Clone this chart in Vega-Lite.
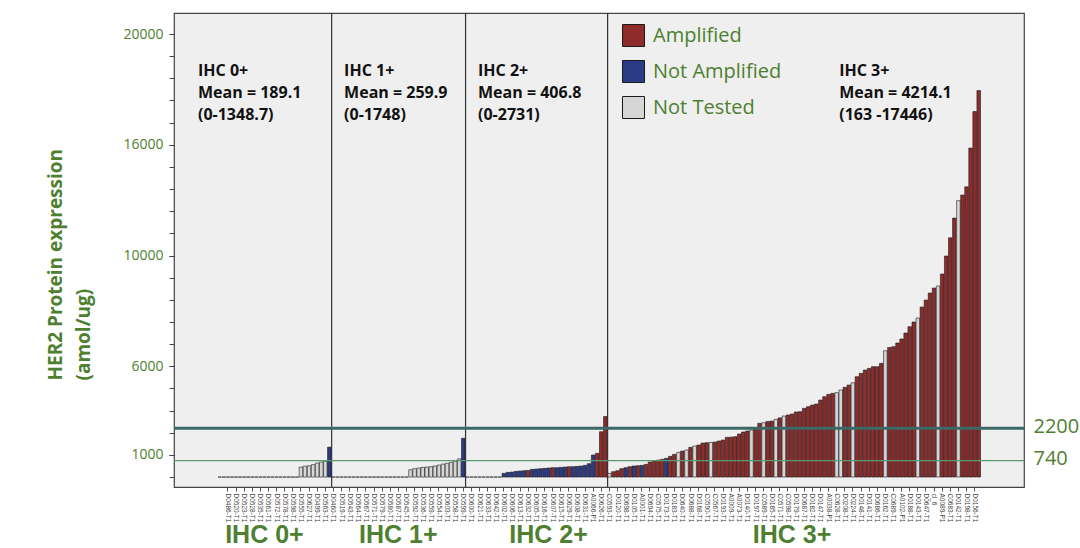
{
  "$schema": "https://vega.github.io/schema/vega-lite/v6.json",
  "width": 850,
  "height": 474,
  "autosize": {"type": "none"},
  "padding": {"left": 174, "top": 13, "right": 56, "bottom": 61},
  "background": "white",
  "config": {
    "font": "Open Sans",
    "view": {"fill": "#efefef", "stroke": "#444444", "strokeWidth": 1.2}
  },
  "datasets": {
    "bars": [
      {"id":"cl_1","group":"IHC 0+","status":"Not Tested","value":0},
      {"id":"D0491-T1","group":"IHC 0+","status":"Not Tested","value":0},
      {"id":"D0486-T1","group":"IHC 0+","status":"Not Tested","value":0},
      {"id":"D0512-T1","group":"IHC 0+","status":"Not Tested","value":0},
      {"id":"D0520-T1","group":"IHC 0+","status":"Not Tested","value":0},
      {"id":"D0521-T1","group":"IHC 0+","status":"Not Tested","value":0},
      {"id":"D0523-T1","group":"IHC 0+","status":"Not Tested","value":0},
      {"id":"D0525-T1","group":"IHC 0+","status":"Not Tested","value":0},
      {"id":"D0528-T1","group":"IHC 0+","status":"Not Tested","value":0},
      {"id":"D0531-T1","group":"IHC 0+","status":"Not Tested","value":0},
      {"id":"D0535-T1","group":"IHC 0+","status":"Not Tested","value":0},
      {"id":"D0548-T1","group":"IHC 0+","status":"Not Tested","value":0},
      {"id":"D0561-T1","group":"IHC 0+","status":"Not Tested","value":0},
      {"id":"D0566-T1","group":"IHC 0+","status":"Not Tested","value":0},
      {"id":"D0572-T1","group":"IHC 0+","status":"Not Tested","value":0},
      {"id":"D0574-T1","group":"IHC 0+","status":"Not Tested","value":0},
      {"id":"D0578-T1","group":"IHC 0+","status":"Not Tested","value":0},
      {"id":"D0590-T1","group":"IHC 0+","status":"Not Tested","value":0},
      {"id":"D0598-T1","group":"IHC 0+","status":"Not Tested","value":0},
      {"id":"D0501-T1","group":"IHC 0+","status":"Not Tested","value":0},
      {"id":"D0555-T1","group":"IHC 0+","status":"Not Tested","value":450},
      {"id":"D0584-T1","group":"IHC 0+","status":"Not Tested","value":490},
      {"id":"D0627-T1","group":"IHC 0+","status":"Not Tested","value":510},
      {"id":"D0489-T1","group":"IHC 0+","status":"Not Tested","value":560},
      {"id":"D0499-T1","group":"IHC 0+","status":"Not Tested","value":630},
      {"id":"D0594-T1","group":"IHC 0+","status":"Not Tested","value":680},
      {"id":"D0563-T1","group":"IHC 0+","status":"Not Tested","value":715},
      {"id":"D0581-T1","group":"IHC 0+","status":"Not Amplified","value":1348.7},
      {"id":"D0460-T1","group":"IHC 1+","status":"Not Tested","value":0},
      {"id":"D0466-T1","group":"IHC 1+","status":"Not Tested","value":0},
      {"id":"D0519-T1","group":"IHC 1+","status":"Not Tested","value":0},
      {"id":"D0522-T1","group":"IHC 1+","status":"Not Tested","value":0},
      {"id":"D0543-T1","group":"IHC 1+","status":"Not Tested","value":0},
      {"id":"D0544-T1","group":"IHC 1+","status":"Not Tested","value":0},
      {"id":"D0564-T1","group":"IHC 1+","status":"Not Tested","value":0},
      {"id":"D0565-T1","group":"IHC 1+","status":"Not Tested","value":0},
      {"id":"D0567-T1","group":"IHC 1+","status":"Not Tested","value":0},
      {"id":"D0568-T1","group":"IHC 1+","status":"Not Tested","value":0},
      {"id":"D0571-T1","group":"IHC 1+","status":"Not Tested","value":0},
      {"id":"D0573-T1","group":"IHC 1+","status":"Not Tested","value":0},
      {"id":"D0579-T1","group":"IHC 1+","status":"Not Tested","value":0},
      {"id":"D0582-T1","group":"IHC 1+","status":"Not Tested","value":0},
      {"id":"D0580-T1","group":"IHC 1+","status":"Not Tested","value":0},
      {"id":"D0583-T1","group":"IHC 1+","status":"Not Tested","value":0},
      {"id":"D0587-T1","group":"IHC 1+","status":"Not Tested","value":0},
      {"id":"D0588-T1","group":"IHC 1+","status":"Not Tested","value":0},
      {"id":"D0545-T1","group":"IHC 1+","status":"Not Tested","value":0},
      {"id":"D0546-T1","group":"IHC 1+","status":"Not Tested","value":330},
      {"id":"D0592-T1","group":"IHC 1+","status":"Not Tested","value":376},
      {"id":"D0593-T1","group":"IHC 1+","status":"Not Tested","value":406},
      {"id":"D0536-T1","group":"IHC 1+","status":"Not Tested","value":436},
      {"id":"D0537-T1","group":"IHC 1+","status":"Not Tested","value":450},
      {"id":"D0559-T1","group":"IHC 1+","status":"Not Tested","value":470},
      {"id":"D0560-T1","group":"IHC 1+","status":"Not Tested","value":500},
      {"id":"D0554-T1","group":"IHC 1+","status":"Not Tested","value":540},
      {"id":"D0557-T1","group":"IHC 1+","status":"Not Tested","value":585},
      {"id":"D0603-T1","group":"IHC 1+","status":"Not Tested","value":620},
      {"id":"D0604-T1","group":"IHC 1+","status":"Not Tested","value":660},
      {"id":"D0558-T1","group":"IHC 1+","status":"Not Tested","value":720},
      {"id":"D0562-T1","group":"IHC 1+","status":"Not Tested","value":820},
      {"id":"D0599-T1","group":"IHC 1+","status":"Not Amplified","value":1748},
      {"id":"D0597-T1","group":"IHC 2+","status":"Not Tested","value":0},
      {"id":"D0600-T1","group":"IHC 2+","status":"Not Tested","value":0},
      {"id":"D0611-T1","group":"IHC 2+","status":"Not Tested","value":0},
      {"id":"D0621-T1","group":"IHC 2+","status":"Not Tested","value":0},
      {"id":"D0624-T1","group":"IHC 2+","status":"Not Tested","value":0},
      {"id":"D0633-T1","group":"IHC 2+","status":"Not Tested","value":0},
      {"id":"D0635-T1","group":"IHC 2+","status":"Not Tested","value":0},
      {"id":"D0642-T1","group":"IHC 2+","status":"Not Tested","value":0},
      {"id":"D0641-T1","group":"IHC 2+","status":"Not Tested","value":0},
      {"id":"D0602-T1","group":"IHC 2+","status":"Not Amplified","value":166},
      {"id":"D0609-T1","group":"IHC 2+","status":"Not Amplified","value":210},
      {"id":"D0606-T1","group":"IHC 2+","status":"Not Amplified","value":225},
      {"id":"D0610-T1","group":"IHC 2+","status":"Not Amplified","value":255},
      {"id":"D0613-T1","group":"IHC 2+","status":"Not Amplified","value":270},
      {"id":"D0614-T1","group":"IHC 2+","status":"Not Amplified","value":285},
      {"id":"D0632-T1","group":"IHC 2+","status":"Amplified","value":300},
      {"id":"D0634-T1","group":"IHC 2+","status":"Not Amplified","value":346},
      {"id":"D0605-T1","group":"IHC 2+","status":"Not Amplified","value":361},
      {"id":"D0612-T1","group":"IHC 2+","status":"Not Amplified","value":376},
      {"id":"D0616-T1","group":"IHC 2+","status":"Not Amplified","value":391},
      {"id":"D0617-T1","group":"IHC 2+","status":"Not Amplified","value":406},
      {"id":"D0607-T1","group":"IHC 2+","status":"Amplified","value":421},
      {"id":"D0618-T1","group":"IHC 2+","status":"Not Amplified","value":421},
      {"id":"D0615-T1","group":"IHC 2+","status":"Not Amplified","value":436},
      {"id":"D0619-T1","group":"IHC 2+","status":"Not Amplified","value":450},
      {"id":"D0629-T1","group":"IHC 2+","status":"Amplified","value":466},
      {"id":"D0630-T1","group":"IHC 2+","status":"Not Amplified","value":466},
      {"id":"D0608-T1","group":"IHC 2+","status":"Not Amplified","value":481},
      {"id":"D0620-T1","group":"IHC 2+","status":"Not Amplified","value":496},
      {"id":"D0631-T1","group":"IHC 2+","status":"Not Amplified","value":526},
      {"id":"D0625-T1","group":"IHC 2+","status":"Not Amplified","value":602},
      {"id":"A0066-P1","group":"IHC 2+","status":"Not Amplified","value":993},
      {"id":"D0636-T1","group":"IHC 2+","status":"Amplified","value":1070},
      {"id":"D0626-T1","group":"IHC 2+","status":"Amplified","value":2045},
      {"id":"D0637-T1","group":"IHC 2+","status":"Amplified","value":2731},
      {"id":"C0593-T1","group":"IHC 3+","status":"Not Tested","value":163},
      {"id":"D0701-T1","group":"IHC 3+","status":"Amplified","value":240},
      {"id":"D0120-T1","group":"IHC 3+","status":"Amplified","value":285},
      {"id":"D0702-T1","group":"IHC 3+","status":"Amplified","value":376},
      {"id":"D0698-T1","group":"IHC 3+","status":"Not Amplified","value":421},
      {"id":"D0703-T1","group":"IHC 3+","status":"Amplified","value":466},
      {"id":"D0105-T1","group":"IHC 3+","status":"Not Amplified","value":497},
      {"id":"D0704-T1","group":"IHC 3+","status":"Amplified","value":512},
      {"id":"A0001-T1","group":"IHC 3+","status":"Not Amplified","value":527},
      {"id":"D0705-T1","group":"IHC 3+","status":"Amplified","value":572},
      {"id":"D0694-T1","group":"IHC 3+","status":"Amplified","value":677},
      {"id":"D0706-T1","group":"IHC 3+","status":"Amplified","value":722},
      {"id":"C0575-T1","group":"IHC 3+","status":"Amplified","value":767},
      {"id":"D0707-T1","group":"IHC 3+","status":"Amplified","value":797},
      {"id":"D0173-T1","group":"IHC 3+","status":"Not Amplified","value":843},
      {"id":"D0708-T1","group":"IHC 3+","status":"Amplified","value":933},
      {"id":"D0183-T1","group":"IHC 3+","status":"Amplified","value":1023},
      {"id":"D0709-T1","group":"IHC 3+","status":"Not Tested","value":1114},
      {"id":"D0640-T1","group":"IHC 3+","status":"Amplified","value":1174},
      {"id":"D0710-T1","group":"IHC 3+","status":"Not Tested","value":1219},
      {"id":"D0688-T1","group":"IHC 3+","status":"Amplified","value":1340},
      {"id":"D0711-T1","group":"IHC 3+","status":"Not Tested","value":1400},
      {"id":"D0168-T1","group":"IHC 3+","status":"Amplified","value":1445},
      {"id":"D0712-T1","group":"IHC 3+","status":"Amplified","value":1535},
      {"id":"C0590-T1","group":"IHC 3+","status":"Amplified","value":1550},
      {"id":"D0713-T1","group":"IHC 3+","status":"Not Tested","value":1565},
      {"id":"C0567-T1","group":"IHC 3+","status":"Amplified","value":1580},
      {"id":"D0714-T1","group":"IHC 3+","status":"Amplified","value":1625},
      {"id":"D0193-T1","group":"IHC 3+","status":"Amplified","value":1670},
      {"id":"D0715-T1","group":"IHC 3+","status":"Amplified","value":1791},
      {"id":"A0009-T1","group":"IHC 3+","status":"Amplified","value":1800},
      {"id":"D0716-T1","group":"IHC 3+","status":"Amplified","value":1821},
      {"id":"A0073-T1","group":"IHC 3+","status":"Amplified","value":1941},
      {"id":"D0717-T1","group":"IHC 3+","status":"Amplified","value":2032},
      {"id":"D0140-T1","group":"IHC 3+","status":"Amplified","value":2077},
      {"id":"D0718-T1","group":"IHC 3+","status":"Not Tested","value":2122},
      {"id":"D0197-T1","group":"IHC 3+","status":"Amplified","value":2183},
      {"id":"D0719-T1","group":"IHC 3+","status":"Amplified","value":2424},
      {"id":"C0589-T1","group":"IHC 3+","status":"Not Tested","value":2454},
      {"id":"D0720-T1","group":"IHC 3+","status":"Amplified","value":2505},
      {"id":"D0185-T1","group":"IHC 3+","status":"Amplified","value":2525},
      {"id":"D0721-T1","group":"IHC 3+","status":"Not Tested","value":2600},
      {"id":"C0571-T1","group":"IHC 3+","status":"Amplified","value":2670},
      {"id":"D0722-T1","group":"IHC 3+","status":"Not Tested","value":2754},
      {"id":"C0598-T1","group":"IHC 3+","status":"Amplified","value":2800},
      {"id":"D0723-T1","group":"IHC 3+","status":"Amplified","value":2845},
      {"id":"D0179-T1","group":"IHC 3+","status":"Amplified","value":2935},
      {"id":"D0724-T1","group":"IHC 3+","status":"Amplified","value":2950},
      {"id":"D0687-T1","group":"IHC 3+","status":"Amplified","value":3100},
      {"id":"D0725-T1","group":"IHC 3+","status":"Amplified","value":3176},
      {"id":"D0182-T1","group":"IHC 3+","status":"Amplified","value":3250},
      {"id":"D0726-T1","group":"IHC 3+","status":"Amplified","value":3296},
      {"id":"D0147-T1","group":"IHC 3+","status":"Amplified","value":3476},
      {"id":"D0727-T1","group":"IHC 3+","status":"Amplified","value":3627},
      {"id":"A0038-P1","group":"IHC 3+","status":"Amplified","value":3733},
      {"id":"D0728-T1","group":"IHC 3+","status":"Amplified","value":3778},
      {"id":"C0628-T1","group":"IHC 3+","status":"Not Tested","value":3808},
      {"id":"D0729-T1","group":"IHC 3+","status":"Not Tested","value":3928},
      {"id":"D0208-T1","group":"IHC 3+","status":"Amplified","value":4050},
      {"id":"D0730-T1","group":"IHC 3+","status":"Amplified","value":4153},
      {"id":"D0224-T1","group":"IHC 3+","status":"Not Tested","value":4258},
      {"id":"D0731-T1","group":"IHC 3+","status":"Amplified","value":4530},
      {"id":"D0148-T1","group":"IHC 3+","status":"Amplified","value":4680},
      {"id":"D0732-T1","group":"IHC 3+","status":"Amplified","value":4830},
      {"id":"D0141-T1","group":"IHC 3+","status":"Amplified","value":4906},
      {"id":"D0733-T1","group":"IHC 3+","status":"Amplified","value":4981},
      {"id":"D0686-T1","group":"IHC 3+","status":"Amplified","value":4981},
      {"id":"D0734-T1","group":"IHC 3+","status":"Amplified","value":5132},
      {"id":"D0162-T1","group":"IHC 3+","status":"Not Tested","value":5700},
      {"id":"D0735-T1","group":"IHC 3+","status":"Amplified","value":5850},
      {"id":"C0689-T1","group":"IHC 3+","status":"Amplified","value":5884},
      {"id":"D0736-T1","group":"IHC 3+","status":"Amplified","value":6050},
      {"id":"A0102-P1","group":"IHC 3+","status":"Amplified","value":6230},
      {"id":"D0737-T1","group":"IHC 3+","status":"Amplified","value":6500},
      {"id":"D0188-T1","group":"IHC 3+","status":"Amplified","value":6786},
      {"id":"D0738-T1","group":"IHC 3+","status":"Amplified","value":7000},
      {"id":"D0143-T1","group":"IHC 3+","status":"Not Tested","value":7178},
      {"id":"D0739-T1","group":"IHC 3+","status":"Amplified","value":7675},
      {"id":"D0647-T1","group":"IHC 3+","status":"Amplified","value":7990},
      {"id":"D0740-T1","group":"IHC 3+","status":"Amplified","value":8307},
      {"id":"cl_6","group":"IHC 3+","status":"Amplified","value":8533},
      {"id":"D0741-T1","group":"IHC 3+","status":"Not Tested","value":8623},
      {"id":"A0089-P1","group":"IHC 3+","status":"Amplified","value":9165},
      {"id":"D0742-T1","group":"IHC 3+","status":"Amplified","value":9977},
      {"id":"C0683-T1","group":"IHC 3+","status":"Amplified","value":10800},
      {"id":"D0743-T1","group":"IHC 3+","status":"Amplified","value":11690},
      {"id":"D0142-T1","group":"IHC 3+","status":"Not Tested","value":12475},
      {"id":"D0744-T1","group":"IHC 3+","status":"Amplified","value":12730},
      {"id":"D0198-T1","group":"IHC 3+","status":"Amplified","value":13100},
      {"id":"D0745-T1","group":"IHC 3+","status":"Amplified","value":14850},
      {"id":"D0156-T1","group":"IHC 3+","status":"Amplified","value":16500},
      {"id":"D0746-T1","group":"IHC 3+","status":"Amplified","value":17446}
    ],
    "dividers": [
      {"id":"D0460-T1"},
      {"id":"D0597-T1"},
      {"id":"C0593-T1"}
    ],
    "notes": [
      {"id":"cl_1","lines":["IHC 0+","Mean = 189.1","(0-1348.7)"]},
      {"id":"D0567-T1","lines":["IHC 1+","Mean = 259.9","(0-1748)"]},
      {"id":"D0641-T1","lines":["IHC 2+","Mean = 406.8","(0-2731)"]},
      {"id":"D0148-T1","lines":["IHC 3+","Mean = 4214.1","(163 -17446)"]}
    ],
    "groups": [
      {"id":"D0548-T1","label":"IHC 0+"},
      {"id":"D0587-T1","label":"IHC 1+"},
      {"id":"D0617-T1","label":"IHC 2+"},
      {"id":"D0723-T1","label":"IHC 3+"}
    ],
    "refs": [
      {"value":2200},
      {"value":740}
    ]
  },
  "layer": [
    {
      "layer": [
        {
          "data": {"name": "bars"},
          "mark": {"type": "bar", "stroke": "#1a1a1a", "strokeWidth": 0.6},
          "encoding": {
            "x": {
              "field": "id", "type": "nominal", "sort": null,
              "scale": {
                "range": [44, 806.5],
                "paddingInner": 0.12, "paddingOuter": 0,
                "domain": ["cl_1","D0491-T1","D0486-T1","D0512-T1","D0520-T1","D0521-T1","D0523-T1","D0525-T1","D0528-T1","D0531-T1","D0535-T1","D0548-T1","D0561-T1","D0566-T1","D0572-T1","D0574-T1","D0578-T1","D0590-T1","D0598-T1","D0501-T1","D0555-T1","D0584-T1","D0627-T1","D0489-T1","D0499-T1","D0594-T1","D0563-T1","D0581-T1","D0460-T1","D0466-T1","D0519-T1","D0522-T1","D0543-T1","D0544-T1","D0564-T1","D0565-T1","D0567-T1","D0568-T1","D0571-T1","D0573-T1","D0579-T1","D0582-T1","D0580-T1","D0583-T1","D0587-T1","D0588-T1","D0545-T1","D0546-T1","D0592-T1","D0593-T1","D0536-T1","D0537-T1","D0559-T1","D0560-T1","D0554-T1","D0557-T1","D0603-T1","D0604-T1","D0558-T1","D0562-T1","D0599-T1","D0597-T1","D0600-T1","D0611-T1","D0621-T1","D0624-T1","D0633-T1","D0635-T1","D0642-T1","D0641-T1","D0602-T1","D0609-T1","D0606-T1","D0610-T1","D0613-T1","D0614-T1","D0632-T1","D0634-T1","D0605-T1","D0612-T1","D0616-T1","D0617-T1","D0607-T1","D0618-T1","D0615-T1","D0619-T1","D0629-T1","D0630-T1","D0608-T1","D0620-T1","D0631-T1","D0625-T1","A0066-P1","D0636-T1","D0626-T1","D0637-T1","C0593-T1","D0701-T1","D0120-T1","D0702-T1","D0698-T1","D0703-T1","D0105-T1","D0704-T1","A0001-T1","D0705-T1","D0694-T1","D0706-T1","C0575-T1","D0707-T1","D0173-T1","D0708-T1","D0183-T1","D0709-T1","D0640-T1","D0710-T1","D0688-T1","D0711-T1","D0168-T1","D0712-T1","C0590-T1","D0713-T1","C0567-T1","D0714-T1","D0193-T1","D0715-T1","A0009-T1","D0716-T1","A0073-T1","D0717-T1","D0140-T1","D0718-T1","D0197-T1","D0719-T1","C0589-T1","D0720-T1","D0185-T1","D0721-T1","C0571-T1","D0722-T1","C0598-T1","D0723-T1","D0179-T1","D0724-T1","D0687-T1","D0725-T1","D0182-T1","D0726-T1","D0147-T1","D0727-T1","A0038-P1","D0728-T1","C0628-T1","D0729-T1","D0208-T1","D0730-T1","D0224-T1","D0731-T1","D0148-T1","D0732-T1","D0141-T1","D0733-T1","D0686-T1","D0734-T1","D0162-T1","D0735-T1","C0689-T1","D0736-T1","A0102-P1","D0737-T1","D0188-T1","D0738-T1","D0143-T1","D0739-T1","D0647-T1","D0740-T1","cl_6","D0741-T1","A0089-P1","D0742-T1","C0683-T1","D0743-T1","D0142-T1","D0744-T1","D0198-T1","D0745-T1","D0156-T1","D0746-T1"]
              },
              "axis": {
                "title": null,
                "values": ["cl_1","D0486-T1","D0520-T1","D0523-T1","D0528-T1","D0535-T1","D0561-T1","D0572-T1","D0578-T1","D0598-T1","D0555-T1","D0627-T1","D0499-T1","D0563-T1","D0460-T1","D0519-T1","D0543-T1","D0564-T1","D0567-T1","D0571-T1","D0579-T1","D0580-T1","D0587-T1","D0545-T1","D0592-T1","D0536-T1","D0559-T1","D0554-T1","D0603-T1","D0558-T1","D0599-T1","D0600-T1","D0621-T1","D0633-T1","D0642-T1","D0602-T1","D0606-T1","D0613-T1","D0632-T1","D0605-T1","D0616-T1","D0607-T1","D0615-T1","D0629-T1","D0608-T1","D0631-T1","A0066-P1","D0626-T1","C0593-T1","D0120-T1","D0698-T1","D0105-T1","A0001-T1","D0694-T1","C0575-T1","D0173-T1","D0183-T1","D0640-T1","D0688-T1","D0168-T1","C0590-T1","C0567-T1","D0193-T1","A0009-T1","A0073-T1","D0140-T1","D0197-T1","C0589-T1","D0185-T1","C0571-T1","C0598-T1","D0179-T1","D0687-T1","D0182-T1","D0147-T1","A0038-P1","C0628-T1","D0208-T1","D0224-T1","D0148-T1","D0141-T1","D0686-T1","D0162-T1","C0689-T1","A0102-P1","D0188-T1","D0143-T1","D0647-T1","cl_6","A0089-P1","C0683-T1","D0142-T1","D0198-T1","D0156-T1"],
                "labelAngle": 90,
                "labelFont": "Liberation Sans",
                "labelFontSize": 6.5,
                "labelColor": "#444444",
                "labelPadding": 2,
                "labelOverlap": false,
                "labelBound": false,
                "tickSize": 4,
                "tickColor": "#555555",
                "domain": false,
                "grid": false
              }
            },
            "y": {
              "field": "value", "type": "quantitative",
              "scale": {"domain": [-450, 20950], "nice": false, "zero": false},
              "axis": {
                "orient": "left",
                "title": ["HER2 Protein expression", "(amol/ug)"],
                "titleFont": "Open Sans",
                "titleFontSize": 19,
                "titleFontWeight": "bold",
                "titleColor": "#4e8030",
                "titleAngle": 270,
                "titleAlign": "left",
                "titleBaseline": "top",
                "titleX": -128,
                "titleY": 367,
                "titleLineHeight": 28,
                "values": [1000, 5000, 10000, 15000, 20000],
                "labelExpr": "datum.value == 5000 ? '6000' : datum.value == 15000 ? '16000' : '' + datum.value",
                "labelOverlap": false,
                "labelFont": "Open Sans",
                "labelFontSize": 14,
                "labelColor": "#4e8030",
                "labelPadding": 6,
                "tickSize": 5,
                "tickColor": "#444444",
                "domain": false,
                "grid": false
              }
            },
            "color": {
              "field": "status", "type": "nominal",
              "scale": {"domain": ["Amplified", "Not Amplified", "Not Tested"], "range": ["#8e2b2b", "#2b3b86", "#d6d6d6"]},
              "legend": {
                "title": null,
                "orient": "none",
                "legendX": 448,
                "legendY": 11,
                "padding": 0,
                "symbolType": "square",
                "symbolSize": 484,
                "symbolStrokeWidth": 1,
                "labelFont": "Open Sans",
                "labelFontSize": 20,
                "labelColor": "#4e8030",
                "labelOffset": 8,
                "rowPadding": 9,
                "encode": {
                  "symbols": {
                    "fill": {
                      "condition": [
                        {"test": "datum.value === 'Amplified'", "value": "#b8241c"},
                        {"test": "datum.value === 'Not Amplified'", "value": "#2f6fbe"}
                      ],
                      "value": "#8a8a8a"
                    },
                    "stroke": {"value": "#555555"}
                  }
                }
              }
            }
          }
        },
        {
          "data": {"name": "dividers"},
          "mark": {"type": "rule", "color": "#333333", "strokeWidth": 1.2},
          "encoding": {
            "x": {"field": "id", "type": "nominal", "sort": null, "bandPosition": 0}
          }
        },
        {
          "data": {"name": "notes"},
          "mark": {"type": "text", "align": "left", "baseline": "alphabetic", "font": "Open Sans", "fontWeight": "bold", "fontSize": 16, "lineHeight": 22, "dx": -20, "color": "#111111"},
          "encoding": {
            "x": {"field": "id", "type": "nominal", "sort": null, "bandPosition": 0},
            "y": {"datum": 18100, "type": "quantitative"},
            "text": {"field": "lines"}
          }
        }
      ]
    },
    {
      "data": {"name": "groups"},
      "mark": {"type": "text", "align": "center", "baseline": "middle", "font": "Liberation Sans", "fontWeight": "bold", "fontSize": 25, "color": "#4e8030"},
      "encoding": {
        "x": {"field": "id", "type": "nominal", "sort": null},
        "y": {
          "datum": -2600, "type": "quantitative",
          "axis": {
            "orient": "left",
            "title": null,
            "values": [0,1000,2000,3000,4000,5000,6000,7000,8000,9000,10000,11000,12000,13000,14000,15000,16000,17000,18000,19000,20000],
            "labels": false,
            "ticks": true,
            "tickSize": 5,
            "tickColor": "#444444",
            "domain": false,
            "grid": false
          }
        },
        "text": {"field": "label"}
      }
    },
    {
      "data": {"name": "refs"},
      "mark": {"type": "rule"},
      "encoding": {
        "y": {
          "field": "value", "type": "quantitative",
          "scale": {"domain": [-450, 20950], "nice": false, "zero": false},
          "axis": {
            "orient": "right",
            "title": null,
            "values": [740, 2200],
            "format": "d",
            "ticks": false,
            "domain": false,
            "grid": false,
            "labelFont": "Open Sans",
            "labelFontSize": 20,
            "labelColor": "#4e8030",
            "labelPadding": 9,
            "labelOffset": -2
          }
        },
        "color": {"condition": {"test": "datum.value > 1000", "value": "#3d6868"}, "value": "#5c9a6e"},
        "strokeWidth": {"condition": {"test": "datum.value > 1000", "value": 3}, "value": 1.2}
      }
    }
  ],
  "resolve": {"axis": {"y": "independent"}}
}
